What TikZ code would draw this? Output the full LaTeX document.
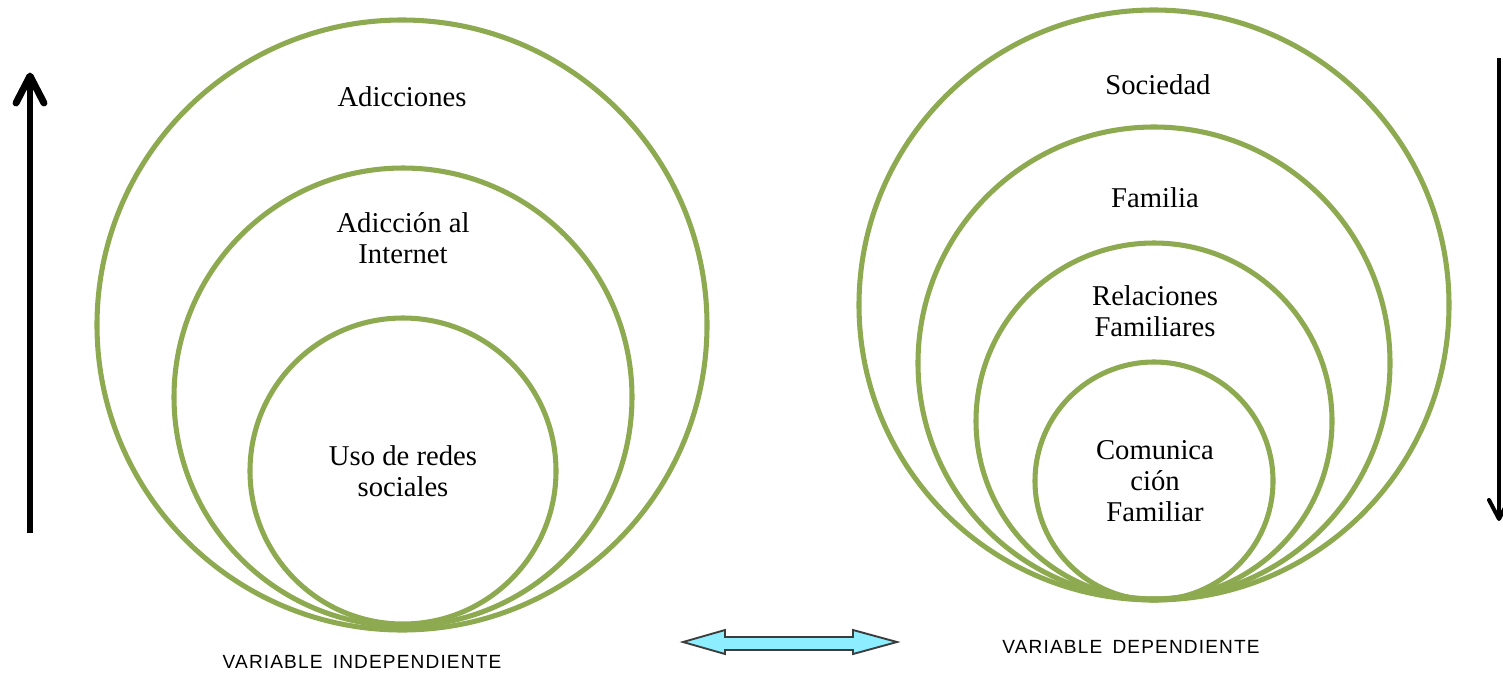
\documentclass[tikz,border=0pt]{standalone}
\usepackage{fontspec}
\setmainfont{Liberation Serif}
\newfontfamily\labelfont[LetterSpace=6,WordSpace=1.6]{Liberation Sans}
\definecolor{ringgreen}{RGB}{141,170,80}
\definecolor{arrowcyan}{RGB}{140,238,255}
\definecolor{arrowedge}{RGB}{60,60,60}
\tikzset{
  ring/.style={draw=ringgreen, line width=3.8pt},
  ringtext/.style={align=center, font=\fontsize{21.5}{23}\selectfont, inner sep=0pt},
  varlabel/.style={font=\labelfont\fontsize{14.3}{16}\selectfont, inner sep=0pt},
  bigarrow/.style={line width=5.2pt, line join=round},
  thinarrow/.style={line width=3pt, line join=round},
}
\begin{document}
\begin{tikzpicture}[x=0.75pt, y=-0.75pt]
\clip (0,0) rectangle (1503,676);
\fill[white] (0,0) rectangle (1503,676);
% left circles
\draw[ring] (402,325) circle (305);
\draw[ring] (403,397) circle (229);
\draw[ring] (403,471) circle (153);
% right circles
\draw[ring] (1154,305) circle (295);
\draw[ring] (1154,363) circle (236);
\draw[ring] (1154,421) circle (178);
\draw[ring] (1154,481) circle (119);
% texts
\node[ringtext] (adicciones) at (402,97) {Adicciones};
\node[ringtext] (internet) at (403,238) {Adicción al\\Internet};
\node[ringtext] (redes) at (403,471) {Uso de redes\\sociales};
\node[ringtext] (sociedad) at (1158,85) {Sociedad};
\node[ringtext] (familia) at (1155,198) {Familia};
\node[ringtext] (relaciones) at (1155,311) {Relaciones\\Familiares};
\node[ringtext] (comunicacion) at (1155,481) {Comunica\\ción\\Familiar};
% labels
\node[varlabel] (indep) at (362,662) {VARIABLE INDEPENDIENTE};
\node[varlabel] (dep) at (1131,647) {VARIABLE DEPENDIENTE};
% left up arrow
\coordinate (lbot) at (30,533);
\coordinate (ltip) at (30,76);
\draw[bigarrow] (lbot) -- (ltip);
\draw[bigarrow, line cap=round] (16,103) -- (ltip) -- (44,103);
% right down arrow
\coordinate (rtop) at (1499,58);
\coordinate (rtip) at (1499,519);
\draw[thinarrow] (rtop) -- (rtip);
\draw[thinarrow, line cap=round] (1489,500) -- (rtip) -- (1509,500);
% double arrow
\draw[draw=arrowedge, fill=arrowcyan, line width=1.4pt, line join=miter]
  (683,642) -- (725,630) -- (725,637) -- (853,637) -- (853,630) -- (897,642)
  -- (853,654) -- (853,650) -- (725,650) -- (725,654) -- cycle;
\end{tikzpicture}
\end{document}
